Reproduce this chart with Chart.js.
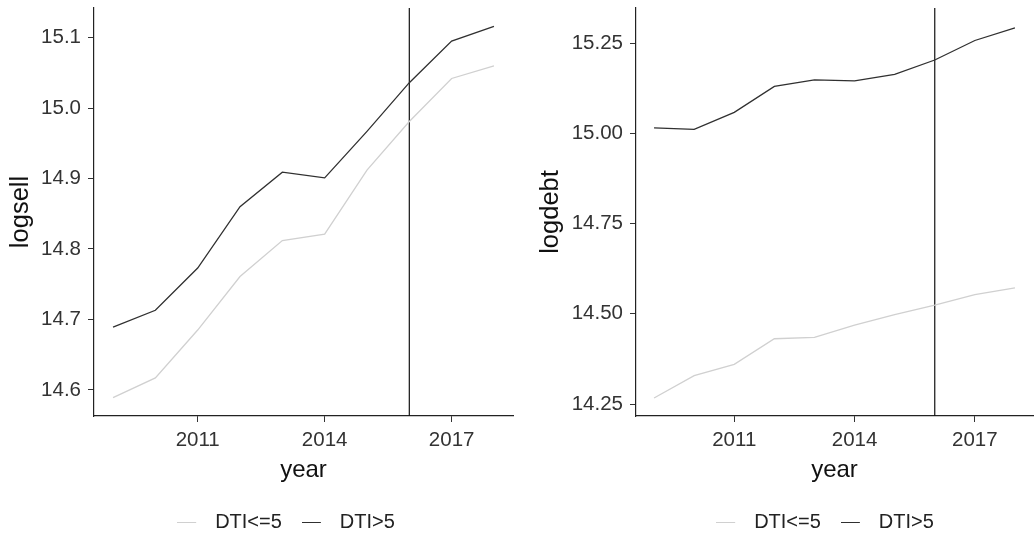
<!DOCTYPE html>
<html>
<head>
<meta charset="utf-8">
<script src="https://cdn.jsdelivr.net/npm/chart.js@4.4.1/dist/chart.umd.min.js"></script>
<style>
    html, body { margin: 0; padding: 0; background: #fff; }
    .panel { position: absolute; top: 0; height: 536px; }
    #left { left: 0; width: 520px; }
    #right { left: 520px; width: 514px; }
</style>
</head>
<body>
<div class="panel" id="left"><canvas id="c1" width="520" height="536"></canvas></div>
<div class="panel" id="right"><canvas id="c2" width="514" height="536"></canvas></div>
<script>
const years = [2009, 2010, 2011, 2012, 2013, 2014, 2015, 2016, 2017, 2018];
const seriesNames = ['DTI<=5', 'DTI>5'];

const logsellLow = [14.589, 14.617, 14.685, 14.761, 14.812, 14.821, 14.912, 14.981, 15.042, 15.060];
const logsellHigh = [14.689, 14.713, 14.773, 14.860, 14.909, 14.901, 14.967, 15.036, 15.095, 15.116];

const logdebtLow = [14.267, 14.329, 14.360, 14.431, 14.435, 14.469, 14.498, 14.524, 14.553, 14.572];
const logdebtHigh = [15.015, 15.011, 15.058, 15.130, 15.148, 15.145, 15.163, 15.203, 15.257, 15.292];

const xTicks = [2011, 2014, 2017];
const logsellTicks = [14.6, 14.7, 14.8, 14.9, 15.0, 15.1];
const logdebtTicks = [14.25, 14.50, 14.75, 15.00, 15.25];
const cutYear = 2016;

const lightColor = '#d0d0d0';
const darkColor = '#303030';
const fontFamily = '"Liberation Sans", Arial, sans-serif';

// legend sample: short line with some blank room after it
let legendSample = function(color) {
    const c = document.createElement('canvas');
    c.width = 28;
    c.height = 4;
    const g = c.getContext('2d');
    g.fillStyle = color;
    g.fillRect(0, 2, 19, 1);
    return c;
}

let legendPlace = {
    id: 'legendPlace',
    afterLayout(chart, args, opts) {
        const lg = chart.legend;
        const dx = opts.cx - (lg.left + lg.right) / 2;
        lg.left += dx;
        lg.right += dx;
        const dy = opts.cy - (lg.top + lg.options.labels.padding + 10);
        lg.top += Math.round(dy);
        lg.bottom += Math.round(dy);
    }
};

let buildPanel = function(canvasId, low, high, yTicks, digits, yMin, yMax, yTitle, yWidth, titlePad, legendCx, rightPad) {
    const pairs = (arr) => years.map((y, i) => ({x: y, y: arr[i]}));
    return new Chart(document.getElementById(canvasId), {
        type: 'line',
        data: {
            datasets: [
                {
                    label: seriesNames[0],
                    data: pairs(low),
                    borderColor: lightColor,
                    borderWidth: 1.3,
                    pointRadius: 0,
                    pointStyle: legendSample(lightColor),
                    tension: 0,
                },
                {
                    label: seriesNames[1],
                    data: pairs(high),
                    borderColor: darkColor,
                    borderWidth: 1.3,
                    pointRadius: 0,
                    pointStyle: legendSample(darkColor),
                    tension: 0,
                },
                {
                    label: 'cut',
                    data: [{x: cutYear, y: yMin}, {x: cutYear, y: yMax}],
                    borderColor: '#111111',
                    borderWidth: 1.2,
                    pointRadius: 0,
                }
            ]
        },
        options: {
            responsive: false,
            animation: false,
            events: [],
            layout: {
                padding: {left: 0, top: 8, right: rightPad, bottom: 0}
            },
            plugins: {
                tooltip: {enabled: false},
                legend: {
                    position: 'bottom',
                    fullSize: false,
                    labels: {
                        usePointStyle: true,
                        pointStyleWidth: 28,
                        padding: 20,
                        color: '#222222',
                        font: {family: fontFamily, size: 20},
                        filter: (item) => item.text !== 'cut'
                    }
                },
                legendPlace: {cx: legendCx, cy: 522}
            },
            scales: {
                x: {
                    type: 'linear',
                    min: 2008.55,
                    max: 2018.45,
                    afterBuildTicks: (scale) => {
                        scale.ticks = xTicks.map((v) => ({value: v}));
                    },
                    afterFit: (scale) => {
                        scale.height = 70;
                        scale.paddingLeft = 0;
                        scale.paddingRight = 0;
                    },
                    ticks: {
                        color: '#333333',
                        padding: 6,
                        maxRotation: 0,
                        font: {family: fontFamily, size: 20.5},
                        callback: (v) => String(v)
                    },
                    grid: {
                        drawOnChartArea: false,
                        drawTicks: true,
                        tickLength: 6,
                        color: '#333333',
                    },
                    border: {display: true, color: '#222222', width: 1.2},
                    title: {
                        display: true,
                        text: 'year',
                        color: '#111111',
                        font: {family: fontFamily, size: 24},
                        padding: {top: 0, bottom: 1}
                    }
                },
                y: {
                    type: 'linear',
                    min: yMin,
                    max: yMax,
                    afterBuildTicks: (scale) => {
                        scale.ticks = yTicks.map((v) => ({value: v}));
                    },
                    afterFit: (scale) => {
                        scale.width = yWidth;
                        scale.paddingTop = 0;
                        scale.paddingBottom = 0;
                    },
                    ticks: {
                        color: '#333333',
                        padding: 7,
                        font: {family: fontFamily, size: 20.5},
                        callback: (v) => Number(v).toFixed(digits)
                    },
                    grid: {
                        drawOnChartArea: false,
                        drawTicks: true,
                        tickLength: 6,
                        color: '#333333',
                    },
                    border: {display: true, color: '#222222', width: 1.2},
                    title: {
                        display: true,
                        text: yTitle,
                        color: '#111111',
                        font: {family: fontFamily, size: 25.5},
                        padding: {top: titlePad, bottom: 0}
                    }
                }
            }
        },
        plugins: [legendPlace]
    });
}

buildPanel('c1', logsellLow, logsellHigh, logsellTicks, 1, 14.563, 15.142, 'logsell', 94, 6, 286, 7);
buildPanel('c2', logdebtLow, logdebtHigh, logdebtTicks, 2, 14.217, 15.347, 'logdebt', 116, 16, 825 - 520, 1);
</script>
</body>
</html>
